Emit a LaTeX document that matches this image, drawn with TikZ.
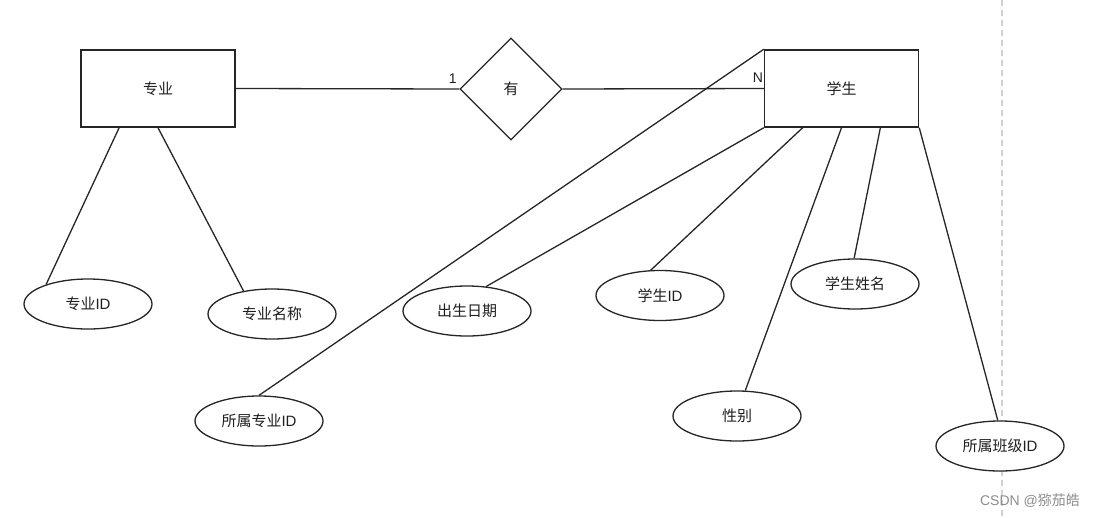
\documentclass[tikz,border=0pt]{standalone}
\usepackage{fontspec}
\setmainfont{Liberation Sans}
\newfontfamily\cjk{Noto Sans CJK SC}
\usetikzlibrary{shapes.geometric,calc}
\begin{document}
\begin{tikzpicture}[x=1pt,y=-1pt,
  every node/.style={font=\fontsize{15}{17}\selectfont, text=black!88},
  entity/.style={draw=black!85, line width=1.5pt, fill=white, minimum width=154pt, minimum height=77pt, inner sep=0pt},
  rel/.style={draw=black!85, diamond, aspect=1, line width=1.3pt, fill=white, minimum width=102pt, minimum height=102pt, inner sep=0pt},
  attr/.style={draw=black!85, ellipse, line width=1.3pt, fill=white, minimum width=128pt, minimum height=50pt, inner sep=0pt},
  link/.style={draw=black!85, line width=1.3pt},
  card/.style={inner sep=0pt, anchor=base east, yshift=6pt, font=\fontsize{14}{16}\selectfont},
  guide/.style={draw=black!18, line width=1.5pt, dash pattern=on 6pt off 4pt},
  wmark/.style={text=black!45, font=\fontsize{14}{16}\selectfont}
]
\useasboundingbox[fill=white] (0,0) rectangle (1095,517);
% page guide
\coordinate (g1) at (1002,0);
\coordinate (g2) at (1002,517);
\draw[guide] (g1) -- (g2);

% entities and relation
\node[entity] (zy) at (158,88.5) {\cjk 专业};
\node[rel] (you) at (511,89) {\cjk 有};
\node[entity] (xs) at (841.5,88.5) {\cjk 学生};

% attributes
\node[attr] (zyid) at (88,304) {{\cjk 专业}ID};
\node[attr] (zymc) at (272,314) {\cjk 专业名称};
\node[attr] (csrq) at (467,311) {\cjk 出生日期};
\node[attr] (sszy) at (259,421) {{\cjk 所属专业}ID};
\node[attr] (xsid) at (660,295.5) {{\cjk 学生}ID};
\node[attr] (xsxm) at (855,284) {\cjk 学生姓名};
\node[attr] (xb) at (737,416) {\cjk 性别};
\node[attr] (ssbj) at (1000,446) {{\cjk 所属班级}ID};

% relation links
\draw[link] (zy.east) -- (you.west) node[card, pos=1, xshift=-2pt] (c1) {1};
\draw[link] (you.east) -- (xs.west) node[card, pos=1, xshift=0pt] (cn) {N};

% attribute links
\draw[link] ($(zy.south west)!0.25!(zy.south east)$) -- (zyid.155);
\draw[link] (zy.south) -- (zymc.141);
\draw[link] (xs.north west) -- (sszy.north);
\draw[link] (xs.south west) -- (csrq.52);
\draw[link] ($(xs.south west)!0.25!(xs.south east)$) -- (xsid.110);
\draw[link] (xs.south) -- (xb.72);
\draw[link] ($(xs.south west)!0.75!(xs.south east)$) -- (xsxm.92);
\draw[link] (xs.south east) -- (ssbj.95);

% watermark
\node[wmark] (wm) at (1030,501) {CSDN @{\cjk 猕茄皓}};
\end{tikzpicture}
\end{document}
